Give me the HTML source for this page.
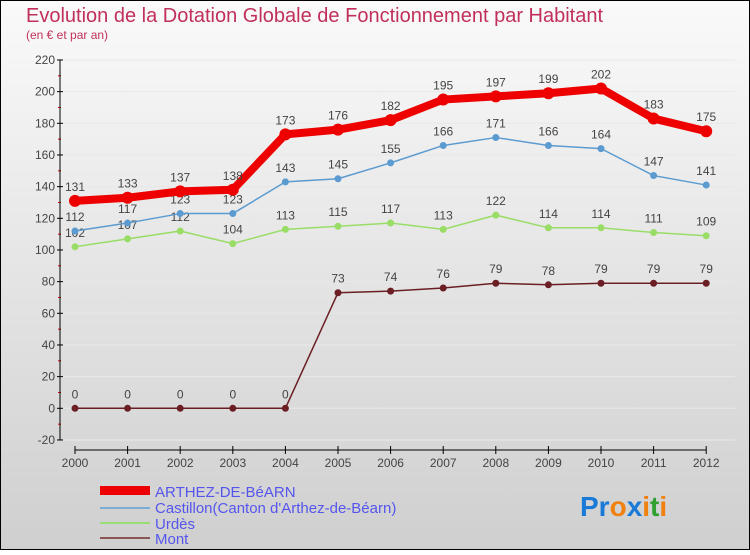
<!DOCTYPE html>
<html><head><meta charset="utf-8"><style>
body{margin:0;width:750px;height:550px;overflow:hidden;font-family:"Liberation Sans",sans-serif}
</style></head><body>
<svg width="750" height="550" font-family="Liberation Sans, sans-serif">
<defs><linearGradient id="bg" x1="0" y1="0" x2="0" y2="1"><stop offset="0" stop-color="#fafafa"/><stop offset="1" stop-color="#cfcfcf"/></linearGradient></defs>
<rect x="0.5" y="0.5" width="749" height="549" fill="url(#bg)" stroke="#000"/>
<text x="26" y="22" font-size="20" fill="#c0305a">Evolution de la Dotation Globale de Fonctionnement par Habitant</text>
<text x="26" y="39" font-size="12" fill="#c0305a">(en € et par an)</text>
<g id="axes"></g><g id="series"></g>
<g>
<rect x="100" y="486" width="50" height="9" fill="#e00"/>
<text x="155" y="497" font-size="15" fill="#5555ee">ARTHEZ-DE-BéARN</text>
<line x1="100" y1="508" x2="150" y2="508" stroke="#7aaed6" stroke-width="2"/>
<text x="155" y="513" font-size="15" fill="#5555ee">Castillon(Canton d'Arthez-de-Béarn)</text>
<line x1="100" y1="523" x2="150" y2="523" stroke="#99dd77" stroke-width="2"/>
<text x="155" y="529" font-size="15" fill="#5555ee">Urdès</text>
<line x1="100" y1="538" x2="150" y2="538" stroke="#8a5555" stroke-width="2"/>
<text x="155" y="544" font-size="15" fill="#5555ee">Mont</text>
</g>
<text x="580" y="516" font-size="28" font-weight="bold"><tspan fill="#1a7ad8">Pr</tspan><tspan fill="#f08010">o</tspan><tspan fill="#1a7ad8">x</tspan><tspan fill="#f08010">i</tspan><tspan fill="#30a030">t</tspan><tspan fill="#f08010">i</tspan></text>
</svg>
<script>
const years=[2000,2001,2002,2003,2004,2005,2006,2007,2008,2009,2010,2011,2012];
const arthez=[131,133,137,138,173,176,182,195,197,199,202,183,175];
const castillon=[112,117,123,123,143,145,155,166,171,166,164,147,141];
const urdes=[102,107,112,104,113,115,117,113,122,114,114,111,109];
const mont=[0,0,0,0,0,73,74,76,79,78,79,79,79];
const yTicks=[-20,0,20,40,60,80,100,120,140,160,180,200,220];
const NS='http://www.w3.org/2000/svg';
const X=i=>75+i*52.6, Y=v=>408.3-v*1.5833;
function mk(t,a,p){const e=document.createElementNS(NS,t);for(const k in a)e.setAttribute(k,a[k]);p.appendChild(e);return e;}
const ax=document.getElementById('axes');
yTicks.forEach((v,i)=>{
 const g=mk('line',{x1:60,y1:Y(v),x2:735,y2:Y(v),stroke:'#e8e8e8'},ax);
 
 
 mk('line',{x1:57,y1:Y(v),x2:63,y2:Y(v),stroke:'#000'},ax);
 if(i<yTicks.length-1)mk('line',{x1:58,y1:Y(v+10),x2:61,y2:Y(v+10),stroke:'#e00'},ax);
 const t=mk('text',{x:55,y:Y(v)+4,'text-anchor':'end','font-size':12,fill:'#444'},ax);t.textContent=v;
 
 
});
const ya=mk('line',{x1:60,y1:Y(220),x2:60,y2:Y(-20),stroke:'#000'},ax);


const xa=mk('line',{x1:X(0),y1:450,x2:X(12),y2:450,stroke:'#000'},ax);


years.forEach((y,i)=>{
 mk('line',{x1:X(i),y1:446,x2:X(i),y2:454,stroke:'#000'},ax);
 const t=mk('text',{x:X(i),y:467,'text-anchor':'middle','font-size':12,fill:'#444'},ax);t.textContent=y;
 
 
});
const sg=document.getElementById('series');
function series(name,data,color,w,r){
 const g=mk('g',{},sg);
 
 
 mk('polyline',{points:data.map((v,i)=>X(i)+','+Y(v)).join(' '),fill:'none',stroke:color,'stroke-width':w,'stroke-linejoin':'round'},g);
 data.forEach((v,i)=>{
  const c=mk('circle',{cx:X(i),cy:Y(v),r:r,fill:color},g);
  
  
  const t=mk('text',{x:X(i),y:Y(v)-10,'text-anchor':'middle','font-size':12,fill:'#444'},g);t.textContent=v;
 });
}
series('mont',mont,'#6b1f24',1.5,3.5);
series('urdes',urdes,'#99dd66',1.5,3.5);
series('castillon',castillon,'#5b9bd0',1.5,3.5);
series('arthez',arthez,'#ee0000',8,6);
</script>
</body></html>
